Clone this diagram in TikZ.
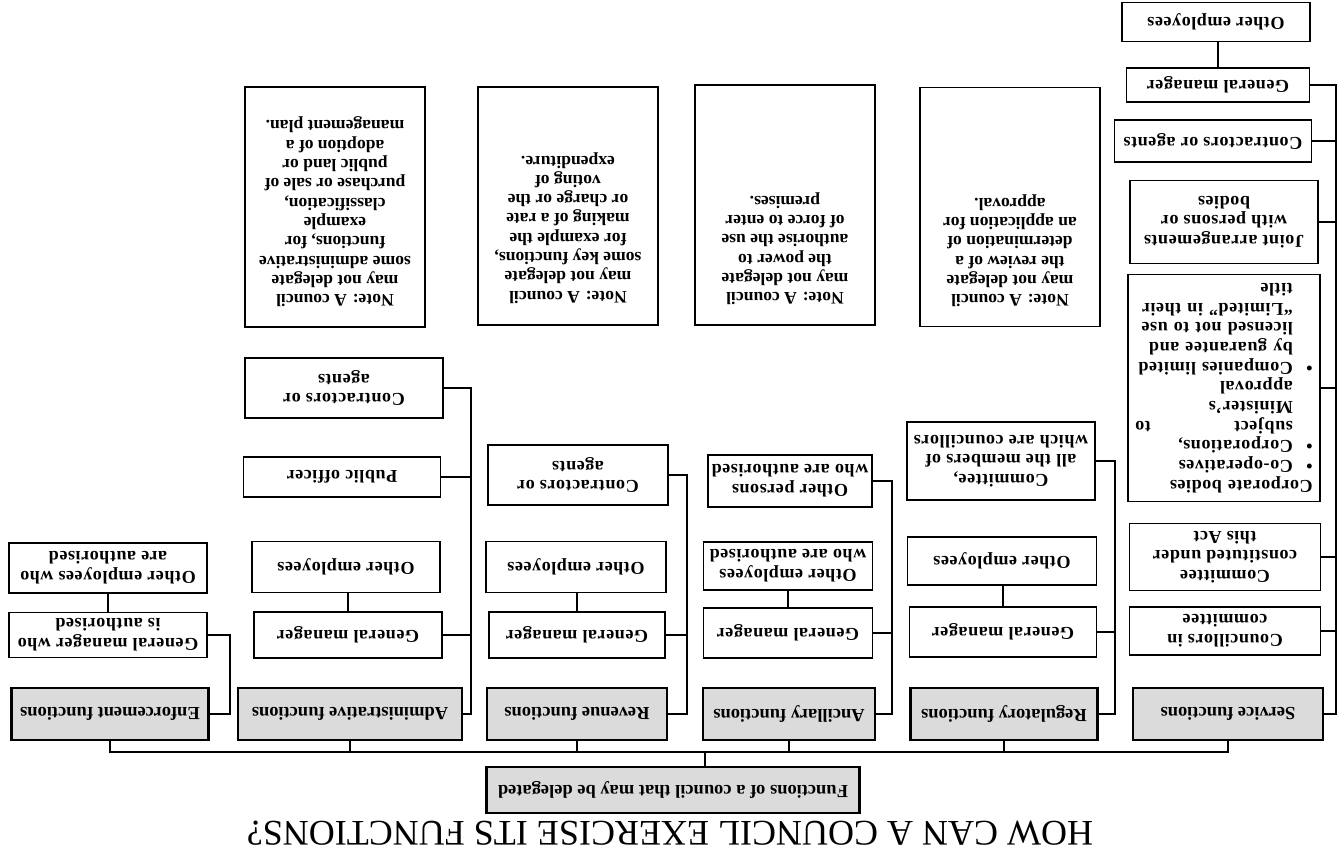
\documentclass[tikz,border=0pt]{standalone}
\usepackage{fontspec}
\setmainfont{Liberation Serif}
\newcommand{\bul}{\makebox[1.1em][l]{\textbullet}}
\newcommand{\ind}{\hspace*{1.1em}}
\begin{document}
\begin{tikzpicture}[x=0.02cm, y=-0.02cm,
  every node/.append style={rotate=180},
  fnbox/.style={draw, line width=1.3pt, fill=black!14, font=\bfseries\fontsize{10.5}{12}\selectfont, inner sep=2pt},
  subbox/.style={draw, line width=1pt, fill=white, align=center, font=\bfseries\fontsize{10.3}{11.2}\selectfont\addfontfeature{LetterSpace=3}, inner sep=2pt},
  notebox/.style={draw, line width=1pt, inner sep=0pt, font=\bfseries\fontsize{10}{11}\selectfont},
  link/.style={line width=1pt},
  sz/.style 2 args={minimum width=#1cm, minimum height=#2cm}]

  \useasboundingbox (0,0) rectangle (1339,865);

  \node (title) at (670,833) {\fontsize{20.5}{22}\selectfont HOW CAN A COUNCIL EXERCISE ITS FUNCTIONS?};
  \node[fnbox, sz={7.46}{0.92}] (root) at (673,790) {Functions of a council that may be delegated};

  % the six kinds of functions
  \node[fnbox, sz={3.94}{1.04}] (enf) at (110,714) {Enforcement functions};
  \node[fnbox, sz={4.48}{1.04}] (adm) at (350,714) {Administrative functions};
  \node[fnbox, sz={3.6}{1.04}] (rev) at (577,714) {Revenue functions};
  \node[fnbox, sz={3.44}{1.04}] (anc) at (789,714) {Ancillary functions};
  \node[fnbox, sz={3.74}{1.04}] (reg) at (1004,714) {Regulatory functions};
  \node[fnbox, sz={3.8}{1.04}] (srv) at (1228,714) {Service functions};

  \coordinate (bus) at (0,752);
  \coordinate (rootlink) at (705,0);
  \draw[link] (root.south -| rootlink) -- (bus -| rootlink);
  \draw[link] (enf.north) -- (enf.north |- bus) -- (srv.north |- bus) -- (srv.north);
  \foreach \f in {adm,rev,anc,reg}
    \draw[link] (\f.north) -- (\f.north |- bus);

  % enforcement
  \node[subbox, sz={3.96}{0.9}] (enfgm) at (108,635) {General manager who\\is authorised};
  \node[subbox, sz={3.96}{1.0}] (enfoth) at (108,568) {Other employees who\\are authorised};
  \coordinate (enfT) at (230,0);
  \draw[link] (enf.west) -- (enf.west -| enfT) |- (enfgm.west);
  \draw[link] (enfgm.south) -- (enfgm.south |- enfoth.north);

  % administrative
  \node[subbox, sz={3.76}{0.92}] (admgm) at (348,635) {General manager};
  \node[subbox, sz={3.76}{1.02}] (admoth) at (346,567) {Other employees};
  \node[subbox, sz={3.94}{0.8}] (admpub) at (342,477) {Public officer};
  \node[subbox, sz={3.96}{1.2}] (admcon) at (344,388) {Contractors or\\agents};
  \coordinate (admT) at (471,0);
  \foreach \c in {admgm,admpub,admcon}
    \draw[link] (adm.west) -- (adm.west -| admT) |- (\c.west);
  \draw[link] (admgm.south) -- (admgm.south |- admoth.north);

  % revenue
  \node[subbox, sz={3.52}{0.92}] (revgm) at (577,635) {General manager};
  \node[subbox, sz={3.6}{1.02}] (revoth) at (576,567) {Other employees};
  \node[subbox, sz={3.6}{1.2}] (revcon) at (578,475) {Contractors or\\agents};
  \coordinate (revT) at (687,0);
  \foreach \c in {revgm,revcon}
    \draw[link] (rev.west) -- (rev.west -| revT) |- (\c.west);
  \draw[link] (revgm.south) -- (revgm.south |- revoth.north);

  % ancillary
  \node[subbox, sz={3.38}{1.0}] (ancgm) at (788,633) {General manager};
  \node[subbox, sz={3.38}{0.96}] (ancoth) at (788,566) {Other employees\\who are authorised};
  \node[subbox, sz={3.2}{1.04}] (ancper) at (790,481) {Other persons\\who are authorised};
  \coordinate (ancT) at (892,0);
  \foreach \c in {ancgm,ancper}
    \draw[link] (anc.west) -- (anc.west -| ancT) |- (\c.west);
  \draw[link] (ancgm.south) -- (ancgm.south |- ancoth.north);

  % regulatory
  \node[subbox, sz={3.74}{1.0}] (reggm) at (1003,632) {General manager};
  \node[subbox, sz={3.78}{0.96}] (regoth) at (1002,561) {Other employees};
  \node[subbox, sz={3.76}{1.56}] (regcom) at (1001,461) {Committee,\\all the members of\\which are councillors};
  \coordinate (regT) at (1115,0);
  \foreach \c in {reggm,regcom}
    \draw[link] (reg.west) -- (reg.west -| regT) |- (\c.west);
  \draw[link] (reggm.south) -- (reggm.south |- regoth.north);

  % service
  \node[subbox, sz={3.82}{0.96}] (srvcic) at (1225,631) {Councillors in\\committee};
  \node[subbox, sz={3.82}{1.34}] (srvcca) at (1225,557) {Committee\\constituted under\\this Act};
  \node[subbox, sz={3.84}{4.54}, align=left, text width=3.55cm] (srvcor) at (1224,388)
    {Corporate bodies\\
     \bul Co-operatives\\
     \bul Corporations,\\
     \ind subject \hfill to\\
     \ind Minister's\\
     \ind approval\\
     \bul Companies limited\\
     \ind by guarantee and\\
     \ind licensed not to use\\
     \ind ``Limited'' in their\\
     \ind title};
  \node[subbox, sz={3.76}{1.66}] (srvjoi) at (1224,222) {Joint arrangements\\with persons or\\bodies};
  \node[subbox, sz={3.94}{0.84}] (srvcon) at (1213,141) {Contractors or agents};
  \node[subbox, sz={3.66}{0.68}] (srvgm) at (1218,85) {General manager};
  \node[subbox, sz={3.76}{0.78}] (srvoth) at (1216,22) {Other employees};
  \coordinate (srvT) at (1336,0);
  \foreach \c in {srvcic,srvcca,srvcor,srvjoi,srvcon,srvgm}
    \draw[link] (srv.west) -- (srv.west -| srvT) |- (\c.west);
  \draw[link] (srvgm.south) -- (srvgm.south |- srvoth.north);

  % notes
  \node[notebox, sz={3.6}{4.8}] (admnote) at (335,207)
    {\parbox[c][4.0cm][t]{3.5cm}{\centering Note: A council\\may not delegate\\some administrative\\functions, for\\example\\classification,\\purchase or sale of\\public land or\\adoption of a\\management plan.}};
  \node[notebox, sz={3.6}{4.76}] (revnote) at (568,206)
    {\parbox[c][3.9cm][t]{3.5cm}{\centering Note: A council\\may not delegate\\some key functions,\\for example the\\making of a rate\\or charge or the\\voting of\\expenditure.}};
  \node[notebox, sz={3.6}{4.8}] (ancnote) at (785,205)
    {\parbox[c][4.0cm][t]{3.5cm}{\centering Note: A council\\may not delegate\\the power to\\authorise the use\\of force to enter\\premises.}};
  \node[notebox, sz={3.6}{4.78}] (regnote) at (1010,207)
    {\parbox[c][4.0cm][t]{3.5cm}{\centering Note: A council\\may not delegate\\the review of a\\determination of\\an application for\\approval.}};

\end{tikzpicture}
\end{document}
